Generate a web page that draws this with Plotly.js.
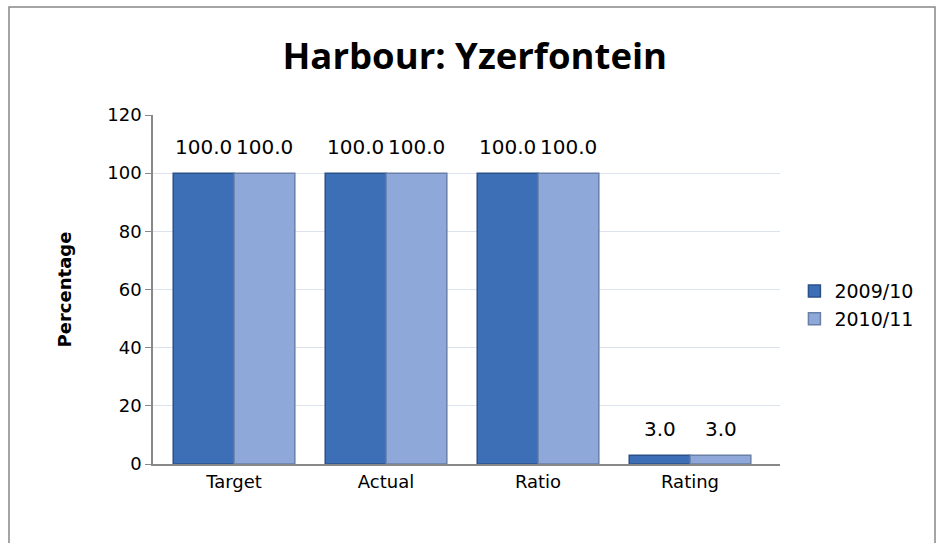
<!DOCTYPE html>
<html><head><meta charset="utf-8">
<script src="https://cdn.plot.ly/plotly-3.0.1.min.js"></script>
<style>body{margin:0;background:#fff}#c{width:942px;height:543px}</style>
</head><body><div id="c"></div>
<script>
const categories = ['Target', 'Actual', 'Ratio', 'Rating'];
const series1Name = '2009/10';
const series1 = [100.0, 100.0, 100.0, 3.0];
const series2Name = '2010/11';
const series2 = [100.0, 100.0, 100.0, 3.0];
const yTicks = [0, 20, 40, 60, 80, 100, 120];

const font = '"DejaVu Sans", sans-serif';
const titleFont = '"Open Sans", Lato, sans-serif';
function trace(name, vals, color, line) {
  return {
    type: 'bar', name: name, x: categories, y: vals,
    marker: {color: color, line: {color: line, width: 1.5}},
    cliponaxis: false
  };
}
const data = [
  trace(series1Name, series1, '#3d6fb6', '#2b5189'),
  trace(series2Name, series2, '#8ea8d9', '#6a7fa8')
];
const annotations = [];
[[series1, -30.5], [series2, 30.5]].forEach(([vals, dx]) => {
  vals.forEach((v, i) => annotations.push({
    x: categories[i], y: v, xref: 'x', yref: 'y', text: v.toFixed(1), showarrow: false,
    xanchor: 'center', yanchor: 'bottom', xshift: dx, yshift: 12,
    font: {family: font, size: 20, color: '#000'}
  }));
});
const W = 627, H = 349;
const layout = {
  width: 942, height: 543,
  margin: {l: 153, r: 162, t: 115, b: 79},
  paper_bgcolor: '#fff', plot_bgcolor: '#fff',
  title: {text: '<b>Harbour: Yzerfontein</b>', font: {family: titleFont, size: 36.5, color: '#000'}, x: 0.504, xanchor: 'center', y: 0.897, yanchor: 'middle'},
  barmode: 'group', bargap: 0.2, bargroupgap: 0,
  xaxis: {range: [-0.533, 3.592], showline: true, linecolor: '#888', linewidth: 2, ticks: '', tickfont: {family: font, size: 18, color: '#000'}, showgrid: false},
  yaxis: {range: [0, 120], tickvals: yTicks, showline: true, linecolor: '#888', linewidth: 1.5, ticks: 'outside', ticklen: 6, tickcolor: '#888',
    gridcolor: '#dde3ee', zeroline: false, tickfont: {family: font, size: 18, color: '#000'},
    title: {text: '<b>Percentage</b>', font: {family: font, size: 18, color: '#000'}, standoff: 31}},
  legend: {x: 1.023, y: 0.455, xanchor: 'left', yanchor: 'middle', font: {family: font, size: 19, color: '#000'}, tracegroupgap: 6, itemwidth: 30},
  showlegend: true,
  annotations: annotations,
  shapes: [{type: 'rect', xref: 'paper', yref: 'paper', x0: (9-153)/W, x1: (935-153)/W, y0: (464-560)/H, y1: (464-7)/H, line: {color: '#888', width: 1.5}, fillcolor: 'rgba(0,0,0,0)', layer: 'below'}]
};
Plotly.newPlot('c', data, layout, {displayModeBar: false});
</script></body></html>
